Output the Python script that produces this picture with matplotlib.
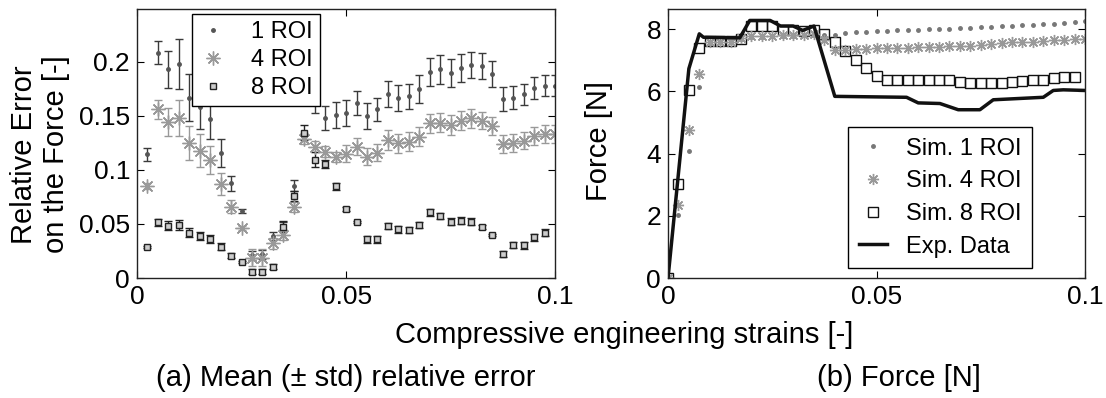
import numpy as np
import matplotlib
matplotlib.use('Agg')
import matplotlib.pyplot as plt

plt.rcParams['font.family'] = ['Liberation Sans', 'DejaVu Sans']

# (a) mean relative error (+/- std), strains 0.0025 ... 0.1
err_strain = [0.0025 * k for k in range(1, 41)]
one_roi = [0.1145, 0.2086, 0.193, 0.198, 0.167, 0.158, 0.147, 0.116, 0.0877, 0.062,
           0.021, 0.022, 0.039, 0.0481, 0.0854, 0.173, 0.161, 0.148, 0.151, 0.153,
           0.162, 0.150, 0.156, 0.170, 0.167, 0.168, 0.175, 0.191, 0.193, 0.190,
           0.194, 0.197, 0.196, 0.189, 0.166, 0.167, 0.170, 0.176, 0.178, 0.178]
one_std = [0.006, 0.011, 0.017, 0.023, 0.022, 0.020, 0.018, 0.013, 0.007, 0.002,
           0.004, 0.004, 0.004, 0.004, 0.005, 0.005, 0.008, 0.011, 0.012, 0.012,
           0.011, 0.012, 0.011, 0.012, 0.012, 0.012, 0.013, 0.013, 0.013, 0.013,
           0.013, 0.012, 0.012, 0.012, 0.011, 0.011, 0.010, 0.010, 0.010, 0.010]
four_roi = [0.0852, 0.156, 0.144, 0.148, 0.125, 0.118, 0.109, 0.087, 0.066, 0.046,
            0.0188, 0.0188, 0.032, 0.0398, 0.0657, 0.129, 0.1216, 0.117, 0.112, 0.115,
            0.1216, 0.1123, 0.116, 0.1278, 0.1247, 0.1262, 0.1309, 0.1432, 0.1438, 0.1417,
            0.1457, 0.1478, 0.1457, 0.1407, 0.124, 0.125, 0.127, 0.1315, 0.1333, 0.1333]
four_std = [0.003, 0.0085, 0.013, 0.017, 0.016, 0.015, 0.013, 0.010, 0.006, 0.002,
            0.008, 0.008, 0.005, 0.005, 0.005, 0.005, 0.005, 0.005, 0.005, 0.008,
            0.008, 0.008, 0.008, 0.009, 0.009, 0.009, 0.009, 0.009, 0.009, 0.009,
            0.009, 0.009, 0.008, 0.008, 0.008, 0.008, 0.008, 0.008, 0.008, 0.008]
eight_roi = [0.0284, 0.0515, 0.0485, 0.049, 0.042, 0.039, 0.036, 0.029, 0.0207, 0.0151,
             0.0059, 0.0059, 0.0105, 0.0475, 0.0759, 0.1346, 0.1093, 0.1056, 0.0849, 0.0636,
             0.0522, 0.0358, 0.0358, 0.0481, 0.0451, 0.0444, 0.0491, 0.0608, 0.0574, 0.0522,
             0.0531, 0.0522, 0.0475, 0.0398, 0.0222, 0.0306, 0.0303, 0.0377, 0.042, np.nan]
eight_std = [0.001, 0.003, 0.004, 0.005, 0.004, 0.004, 0.004, 0.003, 0.002, 0.001,
             0.002, 0.002, 0.002, 0.005, 0.005, 0.007, 0.007, 0.004, 0.003, 0.002,
             0.001, 0.003, 0.003, 0.003, 0.003, 0.003, 0.003, 0.003, 0.003, 0.003,
             0.003, 0.003, 0.002, 0.001, 0.003, 0.003, 0.003, 0.003, 0.003, np.nan]

# (b) force, strains 0 ... 0.1
force_strain = [0.0025 * k for k in range(0, 41)]
sim1 = [0, 2.04, 4.07, 6.14, 7.55, 7.6, 7.62, 7.68, 7.75, 7.76, 7.77, 7.78, 7.79, 7.8,
        7.8, 7.81, 7.82, 7.88, 7.90, 7.91, 7.93, 7.95, 7.96, 7.97, 7.98, 7.99, 8.01,
        8.02, 8.03, 8.04, 8.06, 8.07, 8.09, 8.11, 8.12, 8.14, 8.16, 8.17, 8.20, 8.22, 8.25]
sim4 = [0, 2.36, 4.75, 6.57, 7.6, 7.6, 7.6, 7.71, 7.79, 7.79, 7.79, 7.82, 7.82, 7.82,
        7.85, 7.64, 7.34, 7.34, 7.36, 7.37, 7.39, 7.39, 7.39, 7.40, 7.42, 7.42, 7.43,
        7.45, 7.45, 7.47, 7.50, 7.52, 7.56, 7.58, 7.59, 7.60, 7.62, 7.64, 7.66, 7.68, 7.69]
sim8 = [0, 3.02, 6.05, 7.39, 7.61, 7.61, 7.61, 7.69, 8.09, 8.10, 8.10, 7.96, 7.96, 7.93,
        7.96, 7.85, 7.58, 7.29, 7.02, 6.75, 6.48, 6.38, 6.37, 6.36, 6.36, 6.36, 6.35,
        6.35, 6.30, 6.28, 6.27, 6.27, 6.28, 6.29, 6.32, 6.35, 6.38, 6.42, 6.45, 6.47, np.nan]
exp_strain = [0, 0.005, 0.0075, 0.0085, 0.0172, 0.0196, 0.0245, 0.027, 0.030, 0.0323,
              0.035, 0.040, 0.0572, 0.060, 0.0652, 0.0696, 0.0748, 0.078, 0.090, 0.0924,
              0.0948, 0.1]
exp_force = [0, 6.73, 7.85, 7.74, 7.72, 8.28, 8.28, 8.1, 8.1, 7.96,
             8.10, 5.84, 5.81, 5.63, 5.61, 5.41, 5.41, 5.73, 5.81, 6.03,
             6.05, 6.03]

asterisk = (8, 2, 0)

fig = plt.figure(figsize=(11.06, 3.98), dpi=100)
ax1 = fig.add_axes([0.1239, 0.3015, 0.378, 0.676])
ax2 = fig.add_axes([0.604, 0.3015, 0.377, 0.676])

# left panel: error bars first, markers on top
ax1.errorbar(err_strain, one_roi, yerr=one_std, fmt='none', ecolor='#3a3a3a',
             elinewidth=1, capsize=3, capthick=1)
ax1.errorbar(err_strain, four_roi, yerr=four_std, fmt='none', ecolor='#999999',
             elinewidth=1, capsize=3, capthick=1)
ax1.errorbar(err_strain, eight_roi, yerr=eight_std, fmt='none', ecolor='#222222',
             elinewidth=1, capsize=3, capthick=1)
h1, = ax1.plot(err_strain, one_roi, ls='none', marker='o', ms=2.5, color='#555555',
               label='1 ROI')
h4, = ax1.plot(err_strain, four_roi, ls='none', marker=asterisk, ms=10, mew=1,
               color='#999999', label='4 ROI')
h8, = ax1.plot(err_strain, eight_roi, ls='none', marker='s', ms=4, mew=1,
               mfc='#cccccc', mec='#222222', label='8 ROI')

ax1.set_xlim(0, 0.1)
ax1.set_ylim(0, 0.249)
ax1.set_xticks([0, 0.05, 0.1])
ax1.set_xticklabels(['0', '0.05', '0.1'])
ax1.set_yticks([0, 0.05, 0.1, 0.15, 0.2])
ax1.set_yticklabels(['0', '0.05', '0.1', '0.15', '0.2'])
ax1.set_ylabel('Relative Error\non the Force [-]', fontsize=21, multialignment='center')
ax1.yaxis.set_label_coords(-0.16, 0.46)
leg1 = ax1.legend(handles=[h1, h4, h8], loc='upper left', bbox_to_anchor=(0.1316, 0.981),
                  borderaxespad=0, fontsize=17, fancybox=False, framealpha=1,
                  edgecolor='black', handlelength=1.2, handletextpad=1.0,
                  labelspacing=0.25, borderpad=0.3)
leg1.get_frame().set_linewidth(1)

# right panel
ax2.plot(force_strain, sim8, ls='none', marker='s', ms=6.5, mew=1, mfc='none',
         mec='#111111', label='Sim. 8 ROI')
ax2.plot(force_strain, sim1, ls='none', marker='o', ms=2.5, color='#777777',
         label='Sim. 1 ROI')
ax2.plot(force_strain, sim4, ls='none', marker=asterisk, ms=8, mew=1,
         color='#999999', label='Sim. 4 ROI')
ax2.plot(exp_strain, exp_force, color='#111111', lw=2.5, label='Exp. Data')

ax2.set_xlim(0, 0.1)
ax2.set_ylim(0, 8.65)
ax2.set_xticks([0, 0.05, 0.1])
ax2.set_xticklabels(['0', '0.05', '0.1'])
ax2.set_yticks([0, 2, 4, 6, 8])
ax2.set_ylabel('Force [N]', fontsize=21)
ax2.yaxis.set_label_coords(-0.132, 0.51)
handles, labels = ax2.get_legend_handles_labels()
order = [1, 2, 0, 3]
leg2 = ax2.legend([handles[i] for i in order], [labels[i] for i in order],
                  loc='upper left', bbox_to_anchor=(0.4317, 0.561), borderaxespad=0,
                  fontsize=17, fancybox=False, framealpha=1, edgecolor='black',
                  handlelength=1.2, handletextpad=0.8, labelspacing=0.45, borderpad=0.45)
leg2.get_frame().set_linewidth(1)

for ax in (ax1, ax2):
    ax.tick_params(direction='in', top=True, right=True, length=5, width=0.8,
                   labelsize=19, pad=5)
    for s in ax.spines.values():
        s.set_linewidth(1)
        s.set_color('#222222')

fig.text(0.564, 0.158, 'Compressive engineering strains [-]', fontsize=21,
         ha='center', va='center')
fig.text(0.3127, 0.05, '(a) Mean (± std) relative error', fontsize=21,
         ha='center', va='center')
fig.text(0.8128, 0.05, '(b) Force [N]', fontsize=21, ha='center', va='center')

fig.savefig('out.png', dpi=100)
